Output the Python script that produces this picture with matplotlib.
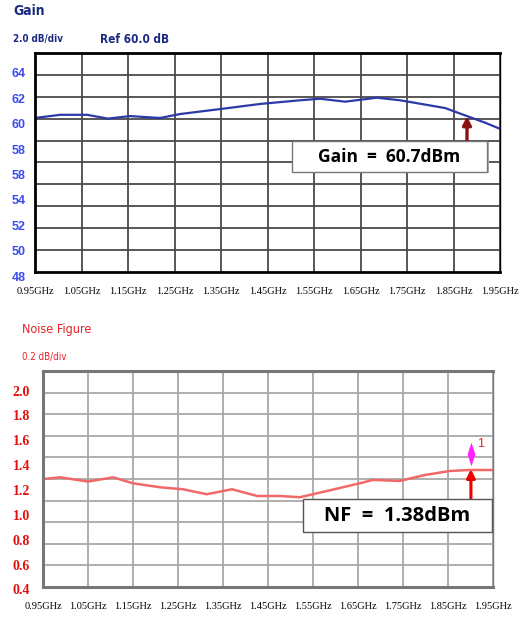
import numpy as np
import matplotlib
matplotlib.use('Agg')
from matplotlib import pyplot as plt
from matplotlib import transforms
from matplotlib.patches import Rectangle
from matplotlib.path import Path
from matplotlib.ticker import FixedLocator

# ---- data ----
freq_ticks = [0.95, 1.05, 1.15, 1.25, 1.35, 1.45, 1.55, 1.65, 1.75, 1.85, 1.95]
freq_labels = ['0.95GHz', '1.05GHz', '1.15GHz', '1.25GHz', '1.35GHz', '1.45GHz',
               '1.55GHz', '1.65GHz', '1.75GHz', '1.85GHz', '1.95GHz']

gain_ticks = [64, 62, 60, 58, 56, 54, 52, 50, 48]
gain_tick_labels = ['64', '62', '60', '58', '58', '54', '52', '50', '48']
gain_f = [0.95, 1.004, 1.062, 1.107, 1.154, 1.219, 1.262, 1.348, 1.434, 1.520,
          1.563, 1.617, 1.685, 1.735, 1.778, 1.832, 1.879, 1.918, 1.95]
gain_db = [60.55, 60.8, 60.8, 60.5, 60.7, 60.55, 60.86, 61.25, 61.65, 61.94,
           62.06, 61.83, 62.14, 61.94, 61.67, 61.33, 60.7, 60.18, 59.7]
gain_marker_f = 1.879
gain_marker = 60.7

nf_ticks = [2.0, 1.8, 1.6, 1.4, 1.2, 1.0, 0.8, 0.6, 0.4]
nf_tick_labels = ['2.0', '1.8', '1.6', '1.4', '1.2', '1.0', '0.8', '0.6', '0.4']
nf_f = [0.95, 0.988, 1.05, 1.106, 1.15, 1.21, 1.261, 1.314, 1.37, 1.426, 1.477,
        1.521, 1.588, 1.654, 1.683, 1.743, 1.799, 1.854, 1.899, 1.95]
nf_db = [1.30, 1.314, 1.28, 1.314, 1.266, 1.234, 1.218, 1.178, 1.218, 1.164, 1.164,
         1.154, 1.21, 1.266, 1.293, 1.285, 1.333, 1.365, 1.373, 1.373]
nf_marker_f = 1.901
nf_marker = 1.38

fig = plt.figure(figsize=(5.21, 6.21), dpi=100)
ax1 = fig.add_axes([0.0672, 0.562, 0.8925, 0.3527])
ax2 = fig.add_axes([0.0825, 0.05475, 0.8637, 0.3478])


def setup(ax, ylim, grid_c, spine_c, spine_w):
    ax.set_xlim(0.95, 1.95)
    ax.set_ylim(*ylim)
    ax.set_xticks(freq_ticks, freq_labels, family='Liberation Serif', fontsize=7.5)
    ax.set_yticks([])
    # the analyser grid has 10 divisions, not tied to the labels
    ax.yaxis.set_minor_locator(FixedLocator(np.linspace(ylim[0], ylim[1], 11)[1:-1]))
    ax.tick_params(axis='both', which='both', length=0)
    ax.tick_params(axis='x', pad=10.5)
    ax.grid(True, axis='x', which='major', color=grid_c, lw=1.3)
    ax.grid(True, axis='y', which='minor', color=grid_c, lw=1.3)
    ax.set_axisbelow(True)
    for s in ax.spines.values():
        s.set_color(spine_c)
        s.set_linewidth(spine_w)
    ax.spines['right'].set_linewidth(1.0)


# ---- gain panel ----
setup(ax1, (48.47, 65.65), '#4a4a4a', 'black', 2.0)
ax1.plot(gain_f, gain_db, color='#2b3aa8', lw=1.6)
tr1 = transforms.blended_transform_factory(ax1.transAxes, ax1.transData)
for v, lab in zip(gain_ticks, gain_tick_labels):
    ax1.text(-0.02, v, lab, transform=tr1, ha='right', va='center', color='#3a4cf0',
             fontsize=9, fontweight='bold', family='Liberation Sans', clip_on=False)

ax1.add_patch(Rectangle((0.557, 0.45), 0.419, 0.1416, transform=ax1.transAxes,
                        facecolor='#b0b0b0', edgecolor='none', zorder=4))
ax1.add_patch(Rectangle((0.553, 0.457), 0.419, 0.1416, transform=ax1.transAxes,
                        facecolor='white', edgecolor='#777777', lw=1.0, zorder=5))
ax1.text(0.762, 0.527, 'Gain  =  60.7dBm', transform=ax1.transAxes, ha='center',
         va='center', fontsize=12.5, fontweight='bold', family='Open Sans', zorder=6)
ax1.annotate('', xy=(gain_marker_f, gain_marker), xycoords='data',
             xytext=(gain_marker_f, 0.599), textcoords=('data', 'axes fraction'),
             arrowprops=dict(arrowstyle='-|>,head_width=0.25,head_length=0.5',
                             color='#8b1010', lw=2.4, shrinkA=0, shrinkB=0), zorder=3)

title_kw = dict(family='DejaVu Sans', fontstretch='condensed', va='center')
fig.text(0.025, 0.9815, 'Gain', color='#1c2a80', fontsize=10, fontweight='bold', **title_kw)
fig.text(0.025, 0.937, '2.0 dB/div', color='#1c2a80', fontsize=7, fontweight='bold', **title_kw)
fig.text(0.192, 0.937, 'Ref 60.0 dB', color='#1c2a80', fontsize=8.5, fontweight='bold', **title_kw)

# ---- noise figure panel ----
setup(ax2, (0.432, 2.169), '#a8a8a8', '#777777', 2.2)
ax2.plot(nf_f, nf_db, color='#f06868', lw=1.8)
tr2 = transforms.blended_transform_factory(ax2.transAxes, ax2.transData)
for v, lab in zip(nf_ticks, nf_tick_labels):
    ax2.text(-0.029, v, lab, transform=tr2, ha='right', va='center', color='#e01010',
             fontsize=10, fontweight='bold', family='Liberation Serif', clip_on=False)

ax2.add_patch(Rectangle((0.578, 0.2546), 0.42, 0.153, transform=ax2.transAxes,
                        facecolor='white', edgecolor='#555555', lw=1.0, zorder=5))
ax2.text(0.788, 0.331, 'NF  =  1.38dBm', transform=ax2.transAxes, ha='center',
         va='center', fontsize=14.5, fontweight='bold', family='Open Sans', zorder=6)
ax2.annotate('', xy=(nf_marker_f, nf_marker), xycoords='data',
             xytext=(nf_marker_f, 0.4076), textcoords=('data', 'axes fraction'),
             arrowprops=dict(arrowstyle='-|>,head_width=0.25,head_length=0.5',
                             color='#ee0000', lw=2.2, shrinkA=0, shrinkB=0), zorder=3)
diamond = Path([(0, 1), (0.33, 0), (0, -1), (-0.33, 0), (0, 1)],
               [Path.MOVETO, Path.LINETO, Path.LINETO, Path.LINETO, Path.CLOSEPOLY])
ax2.plot([nf_marker_f], [nf_marker], marker=diamond, ms=17, color='#ff22ff', mec='none',
         transform=transforms.offset_copy(ax2.transData, fig=fig, x=0, y=15, units='dots'),
         zorder=4)
ax2.annotate('1', xy=(nf_marker_f, nf_marker), xytext=(4.5, 18), textcoords='offset points',
             color='#ee2020', fontsize=9, ha='left', va='center', family='Liberation Sans')

fig.text(0.042, 0.470, 'Noise Figure', color='#e8202a', fontsize=9, **title_kw)
fig.text(0.042, 0.425, '0.2 dB/div', color='#e8202a', fontsize=7, **title_kw)

fig.savefig('out.png', dpi=100)
